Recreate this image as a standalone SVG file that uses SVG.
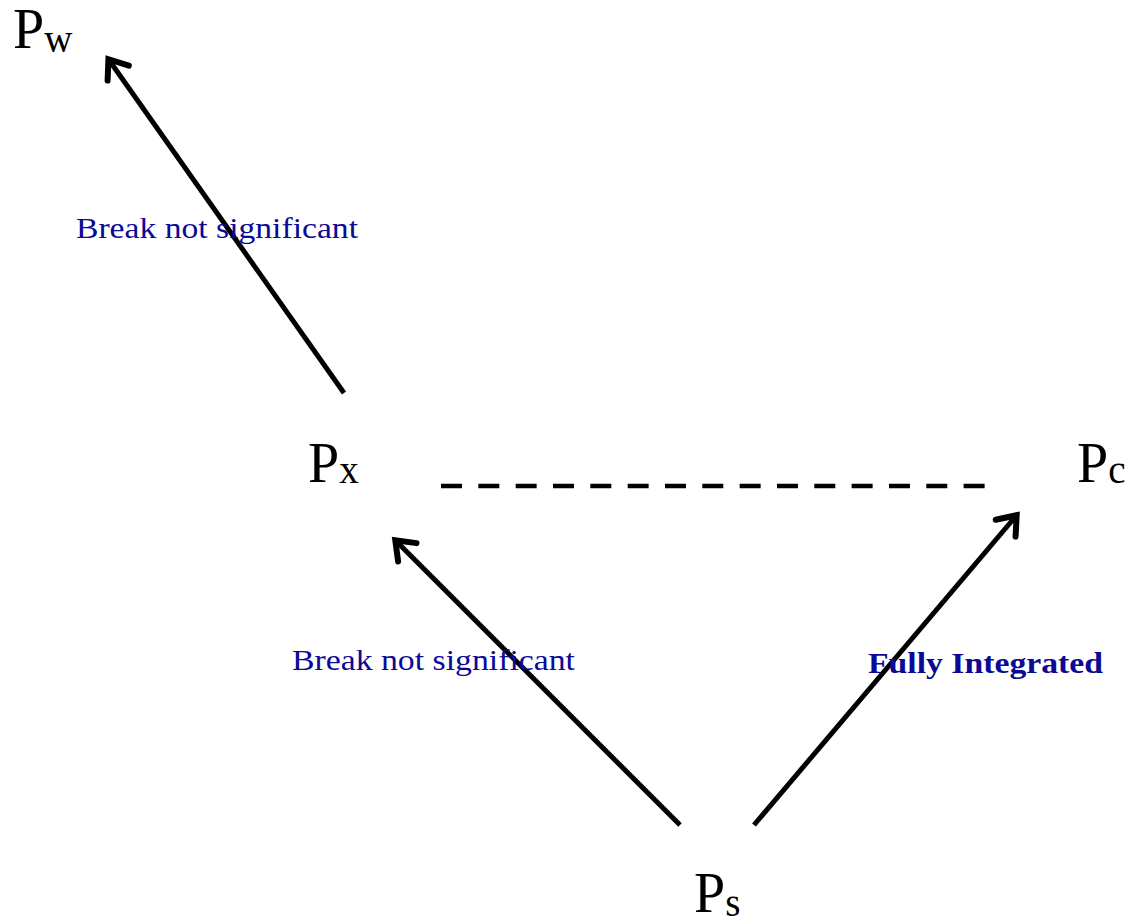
<svg xmlns="http://www.w3.org/2000/svg" width="1134" height="924" viewBox="0 0 1134 924">
<style>
.P{font-family:"Liberation Serif","Times New Roman",serif;font-size:56px;fill:#000}
.sub{font-size:39px}
.lbl{font-family:"Liberation Serif","Times New Roman",serif;font-size:30px;fill:#0a0a96}
.b{font-weight:bold}
.arr{stroke:#000;stroke-width:5;fill:none;marker-end:url(#ah)}
.dash{stroke:#000;stroke-width:4.5;fill:none;stroke-dasharray:21 16.33}
</style>
<defs>
<marker id="ah" markerUnits="userSpaceOnUse" markerWidth="40" markerHeight="40" refX="20" refY="20" orient="auto" viewBox="0 0 40 40">
<path d="M4 7 L21 20 L4 33" fill="none" stroke="#000" stroke-width="6" stroke-linecap="round" stroke-linejoin="miter"/>
</marker>
</defs>
<rect width="1134" height="924" fill="#fff"/>
<g id="connectors">
<line class="arr" x1="344" y1="393" x2="109" y2="60"/>
<line class="arr" x1="680" y1="825" x2="396" y2="541"/>
<line class="arr" x1="754" y1="825" x2="1016" y2="516"/>
<line class="dash" x1="441" y1="486" x2="985" y2="486"/>
</g>
<g id="Pw"><text class="P" x="13" y="48">P<tspan class="sub" dy="4">w</tspan></text></g>
<g id="Px"><text class="P" x="308" y="482">P<tspan class="sub" dy="1">x</tspan></text></g>
<g id="Pc"><text class="P" x="1077" y="482">P<tspan class="sub" dy="1">c</tspan></text></g>
<g id="Ps"><text class="P" x="694" y="912">P<tspan class="sub" dy="4">s</tspan></text></g>
<g id="label1"><text class="lbl" x="76" y="238" textLength="282" lengthAdjust="spacingAndGlyphs">Break not significant</text></g>
<g id="label2"><text class="lbl" x="292" y="670" textLength="283" lengthAdjust="spacingAndGlyphs">Break not significant</text></g>
<g id="label3"><text class="lbl b" x="868" y="673" textLength="235" lengthAdjust="spacingAndGlyphs">Fully Integrated</text></g>
</svg>
